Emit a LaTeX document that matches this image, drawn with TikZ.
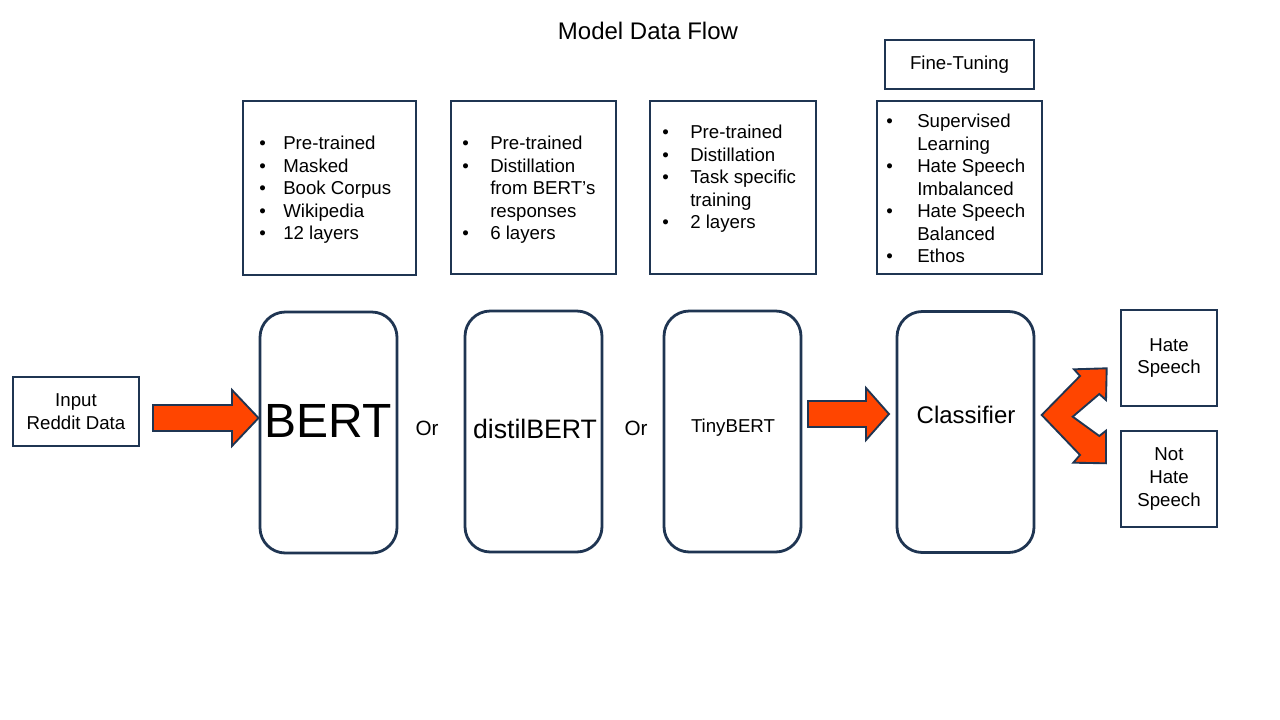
\documentclass[tikz,border=0pt]{standalone}
\usepackage{fontspec}
\setmainfont{Liberation Sans}
\usetikzlibrary{calc}
\definecolor{navy}{HTML}{1F3552}
\definecolor{orng}{HTML}{FF4500}
\newcommand{\bul}[1]{\makebox[#1][l]{•}}
\begin{document}
\begin{tikzpicture}[x=0.75pt,y=-0.75pt,
  box/.style={draw=navy, line width=2.1pt, fill=white, inner sep=0pt},
  rbox/.style={box, rounded corners=19pt, minimum width=102.75pt, minimum height=180.75pt},
  infobox/.style={box, minimum width=124pt, minimum height=130pt},
  barrow/.style={draw=navy, line width=1.4pt, fill=orng, line join=miter},
  txt/.style={font=\fontsize{14}{17.2}\selectfont, align=center, inner sep=0pt},
  lst/.style={font=\fontsize{14}{16.9}\selectfont, align=left, inner sep=0pt, anchor=west}]
\useasboundingbox[fill=white] (0,0) rectangle (1280,720);

% title
\node[txt, font=\fontsize{18}{21}\selectfont] (title) at (648,31) {Model Data Flow};

% info boxes
\node[infobox, minimum width=129.75pt, minimum height=130.5pt] (bertinfo) at (329.5,188) {};
\node[infobox, minimum width=123.75pt, minimum height=129.75pt] (distilinfo) at (533.5,187.5) {};
\node[infobox, minimum width=124.5pt, minimum height=129.75pt] (tinyinfo) at (733,187.5) {};
\node[infobox, minimum width=123.75pt, minimum height=129.75pt] (ftinfo) at (959.5,187.5) {};
\node[box, minimum width=111.75pt, minimum height=36.75pt, txt] (ftlabel) at (959.5,64.5) {Fine-Tuning};

\node[lst] (bertlist) at (259,190) {\bul{18pt}Pre-trained\\\bul{18pt}Masked\\\bul{18pt}Book Corpus\\\bul{18pt}Wikipedia\\\bul{18pt}12 layers};
\node[lst] (distillist) at (462,190) {\bul{21pt}Pre-trained\\\bul{21pt}Distillation\\\hspace*{21pt}from BERT’s\\\hspace*{21pt}responses\\\bul{21pt}6 layers};
\node[lst] (tinylist) at (662,179) {\bul{21pt}Pre-trained\\\bul{21pt}Distillation\\\bul{21pt}Task specific\\\hspace*{21pt}training\\\bul{21pt}2 layers};
\node[lst] (ftlist) at (886,188.5) {\bul{23.25pt}Supervised\\\hspace*{23.25pt}Learning\\\bul{23.25pt}Hate Speech\\\hspace*{23.25pt}Imbalanced\\\bul{23.25pt}Hate Speech\\\hspace*{23.25pt}Balanced\\\bul{23.25pt}Ethos};

% main row
\node[box, txt, minimum width=94.5pt, minimum height=51.75pt] (input) at (76,411.5) {Input\\Reddit Data};
\node[rbox] (bert) at (328.5,432.5) {};
\node[txt, font=\fontsize{36}{40}\selectfont] (bertlbl) at ($(bert.center)+(0,-12)$) {BERT};
\node[txt, font=\fontsize{15.5}{18}\selectfont] (or1) at (427,428) {Or};
\node[rbox] (distil) at (533.5,431.5) {};
\node[txt, font=\fontsize{20}{24}\selectfont] (distillbl) at ($(distil.center)+(1.5,-3)$) {distilBERT};
\node[txt, font=\fontsize{15.5}{18}\selectfont] (or2) at (636,428) {Or};
\node[rbox] (tiny) at (732.5,431.5) {};
\node[txt] (tinylbl) at ($(tiny.center)+(0.5,-4)$) {TinyBERT};
\node[rbox] (classifier) at (965.5,432) {};
\node[txt, font=\fontsize{18}{21}\selectfont] (classlbl) at ($(classifier.center)+(0.5,-17)$) {Classifier};
\node[box, txt, minimum width=72pt, minimum height=72pt] (hate) at (1169,358) {Hate\\Speech};
\node[box, txt, minimum width=72pt, minimum height=72pt] (nothate) at (1169,479) {Not\\Hate\\Speech};

% block arrows
\coordinate (a1s) at (153,418);
\coordinate (a1t) at (258.5,418);
\draw[barrow] (a1s) ++(0,-13) -- ++(79,0) -- ++(0,-15) -- (a1t) -- ++(-26.5,28) -- ++(0,-15) -- ++(-79,0) -- cycle;
\coordinate (a2s) at (808,414);
\coordinate (a2t) at (889,414);
\draw[barrow] (a2s) ++(0,-13) -- ++(58,0) -- ++(0,-13) -- (a2t) -- ++(-23,26) -- ++(0,-13) -- ++(-58,0) -- cycle;

% split arrow from classifier to outputs
\coordinate (sp) at (1041.7,415);
\coordinate (tipup) at (1106.7,368.3);
\coordinate (tipdn) at (1106,463.3);
\draw[barrow] (sp) -- (1080,376) -- (1074,369.3) -- (tipup) -- (1106,400) -- (1099.3,394) -- (1072.7,416.7)
  -- (1099.3,436) -- (1106,430.7) -- (tipdn) -- (1073.3,462.7) -- (1080,455) -- cycle;
\end{tikzpicture}
\end{document}
